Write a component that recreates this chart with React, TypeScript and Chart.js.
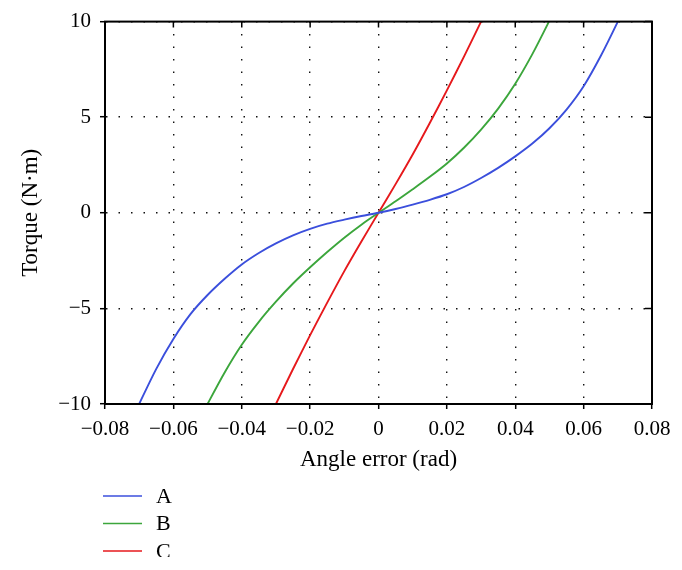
import React, { useEffect, useRef } from "react";
import { Chart, registerables } from "chart.js";

Chart.register(...registerables);

// ---- data ----
const seriesLabels = ["A", "B", "C"];
const seriesColors = ["#3b4fdc", "#3ca63c", "#e6191c"];

const aX = [-0.072, -0.07, -0.065, -0.06, -0.055, -0.05, -0.045, -0.04, -0.035, -0.03, -0.025, -0.02, -0.015, -0.01, -0.005, 0, 0.005, 0.01, 0.015, 0.02, 0.025, 0.03, 0.035, 0.04, 0.045, 0.05, 0.055, 0.06, 0.065, 0.07, 0.072];
const aY = [-10.8, -10, -8.16, -6.6, -5.3, -4.3, -3.45, -2.7, -2.1, -1.6, -1.18, -0.84, -0.57, -0.36, -0.17, 0, 0.2, 0.43, 0.68, 0.97, 1.35, 1.82, 2.35, 2.95, 3.62, 4.42, 5.4, 6.62, 8.2, 10, 10.8];

const bX = [-0.052, -0.05, -0.045, -0.04, -0.035, -0.03, -0.025, -0.02, -0.015, -0.01, -0.005, 0, 0.005, 0.01, 0.015, 0.02, 0.025, 0.03, 0.035, 0.04, 0.045, 0.05, 0.052];
const bY = [-10.7, -10, -8.35, -6.9, -5.7, -4.65, -3.7, -2.85, -2.05, -1.3, -0.62, 0, 0.6, 1.23, 1.88, 2.58, 3.4, 4.35, 5.45, 6.75, 8.3, 10.05, 10.8];

const cX = [-0.031, -0.03, -0.025, -0.02, -0.015, -0.01, -0.005, 0, 0.005, 0.01, 0.015, 0.02, 0.025, 0.03, 0.031];
const cY = [-10.37, -10, -8.17, -6.4, -4.7, -3.05, -1.5, 0, 1.5, 3.05, 4.7, 6.4, 8.17, 10, 10.37];

const xTicks = [-0.08, -0.06, -0.04, -0.02, 0, 0.02, 0.04, 0.06, 0.08];
const yTicks = [-10, -5, 0, 5, 10];
const xTitle = "Angle error (rad)";
const yTitle = "Torque (N·m)";

const FONT = "'Liberation Serif', 'DejaVu Serif', serif";

function toPoints(xs: number[], ys: number[]) {
  return xs.map((x, i) => ({ x, y: ys[i] }));
}

function fmt(v: number, digits: number) {
  if (Math.abs(v) < 1e-12) return "0";
  const s = digits > 0 ? Math.abs(v).toFixed(digits) : String(Math.abs(v));
  return (v < 0 ? "\u2212" : "") + s;
}

const framePlugin = {
  id: "frame",
  afterDraw(chart: any) {
    const { ctx, chartArea } = chart;
    const { left, right, top, bottom } = chartArea;
    ctx.save();
    ctx.setLineDash([]);
    ctx.strokeStyle = "#000";
    // inward mirrored ticks on top and right
    ctx.lineWidth = 1.5;
    const xs = chart.scales.x;
    const ys = chart.scales.y;
    ctx.beginPath();
    xs.ticks.forEach((t: any) => {
      const px = xs.getPixelForValue(t.value);
      ctx.moveTo(px, top);
      ctx.lineTo(px, top + 6);
    });
    ys.ticks.forEach((t: any) => {
      const py = ys.getPixelForValue(t.value);
      ctx.moveTo(right, py);
      ctx.lineTo(right - 7, py);
    });
    ctx.stroke();
    // box
    ctx.lineWidth = 2;
    ctx.strokeRect(left, top, right - left, bottom - top);

    // legend, stacked vertically below the axis
    ctx.font = `22px ${FONT}`;
    ctx.textBaseline = "middle";
    ctx.textAlign = "left";
    chart.data.datasets.forEach((ds: any, i: number) => {
      const y = 496 + i * 27.5;
      ctx.strokeStyle = ds.borderColor;
      ctx.lineWidth = 1.6;
      ctx.beginPath();
      ctx.moveTo(103, y);
      ctx.lineTo(142, y);
      ctx.stroke();
      ctx.fillStyle = "#000";
      ctx.fillText(ds.label, 156, y + 1);
    });
    ctx.restore();
  },
};

const gridOpts = {
  color: "#111",
  lineWidth: 1.4,
  tickBorderDash: [],
  tickLength: 5,
  tickColor: "#000",
  tickWidth: 1.5,
};

export default function App() {
  const ref = useRef<HTMLCanvasElement>(null);

  useEffect(() => {
    if (!ref.current) return;
    const xsArr = [aX, bX, cX];
    const ysArr = [aY, bY, cY];
    const chart = new Chart(ref.current, {
      type: "scatter",
      data: {
        datasets: seriesLabels.map((label, i) => ({
          label,
          data: toPoints(xsArr[i], ysArr[i]),
          showLine: true,
          borderColor: seriesColors[i],
          backgroundColor: seriesColors[i],
          borderWidth: 1.9,
          pointRadius: 0,
          tension: 0.3,
        })),
      },
      options: {
        animation: false,
        responsive: false,
        events: [],
        layout: { padding: { left: 0, right: 30, top: 20, bottom: 0 } },
        plugins: {
          legend: { display: false },
          tooltip: { enabled: false },
        },
        scales: {
          x: {
            type: "linear",
            min: -0.08,
            max: 0.08,
            afterBuildTicks: (s: any) => {
              s.ticks = xTicks.map((v) => ({ value: v }));
            },
            afterFit: (s: any) => {
              s.height = 153;
            },
            ticks: {
              color: "#000",
              font: { family: FONT, size: 21 },
              padding: 8,
              maxRotation: 0,
              autoSkip: false,
              callback: (v: any) => fmt(Number(v), 2),
            },
            grid: gridOpts,
            border: { display: true, color: "#000", width: 2, dash: [1.5, 11] },
            title: {
              display: true,
              text: xTitle,
              color: "#000",
              font: { family: FONT, size: 23 },
              padding: { top: 0, bottom: 83 },
            },
          },
          y: {
            type: "linear",
            min: -10,
            max: 10,
            afterBuildTicks: (s: any) => {
              s.ticks = yTicks.map((v) => ({ value: v }));
            },
            afterFit: (s: any) => {
              s.width = 105;
            },
            ticks: {
              color: "#000",
              font: { family: FONT, size: 21 },
              padding: 9,
              autoSkip: false,
              callback: (v: any) => fmt(Number(v), 0),
            },
            grid: gridOpts,
            border: { display: true, color: "#000", width: 2, dash: [1.5, 11] },
            title: {
              display: true,
              text: yTitle,
              color: "#000",
              font: { family: FONT, size: 23 },
              padding: { top: 17, bottom: 0 },
            },
          },
        },
      },
      plugins: [framePlugin],
    });
    return () => chart.destroy();
  }, []);

  return (
    <div style={{ position: "fixed", left: 0, top: 0, width: 682, height: 570, background: "#fff" }}>
      <canvas ref={ref} width={682} height={557} style={{ display: "block", width: 682, height: 557 }} />
    </div>
  );
}
